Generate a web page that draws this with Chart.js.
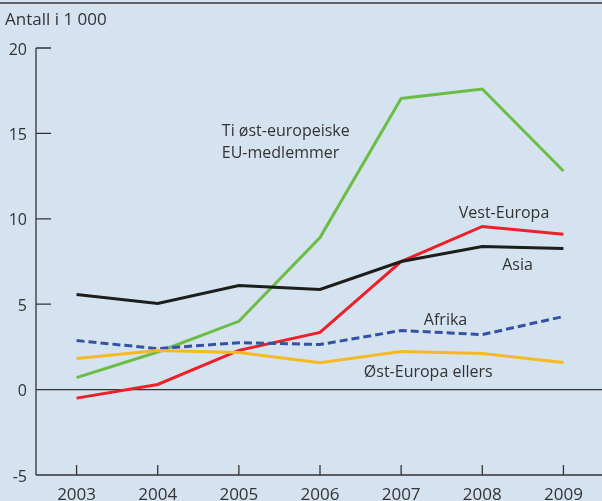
<!DOCTYPE html>
<html>
<head>
<meta charset="utf-8">
<script src="https://cdn.jsdelivr.net/npm/chart.js"></script>
<style>
html, body { margin: 0; padding: 0; overflow: hidden; background: #d5e3f0; }
</style>
</head>
<body>
<canvas id="chart" width="604" height="501"></canvas>
<script>
// Data (antall i 1 000)
const years = ['2003', '2004', '2005', '2006', '2007', '2008', '2009'];
const tiOstEu = [0.7, 2.2, 4.0, 8.9, 17.05, 17.6, 12.8];
const vestEuropa = [-0.5, 0.3, 2.3, 3.35, 7.5, 9.55, 9.1];
const asia = [5.57, 5.04, 6.1, 5.86, 7.5, 8.38, 8.26];
const afrika = [2.87, 2.4, 2.75, 2.64, 3.46, 3.22, 4.28];
const ostEuropaEllers = [1.82, 2.29, 2.17, 1.58, 2.23, 2.11, 1.58];
const yTicks = [-5, 0, 5, 10, 15, 20];

const FONT = '"Open Sans", "Noto Sans", sans-serif';
const INK = '#333333';

// series labels placed in data units (x = category index, y = value)
const seriesLabels = [
    { text: 'Ti øst-europeiske', x: 1.79, y: 15.14 },
    { text: 'EU-medlemmer', x: 1.79, y: 13.85 },
    { text: 'Vest-Europa', x: 4.71, y: 10.33 },
    { text: 'Asia', x: 5.245, y: 7.28 },
    { text: 'Afrika', x: 4.28, y: 4.05 },
    { text: 'Øst-Europa ellers', x: 3.54, y: 1.0 }
];

const decorPlugin = {
    id: 'decor',
    beforeDraw(chart) {
        const ctx = chart.ctx;
        ctx.save();
        ctx.fillStyle = '#d5e3f0';
        ctx.fillRect(0, 0, chart.width, chart.height);
        // top border
        ctx.strokeStyle = '#3a3a3a';
        ctx.lineWidth = 1.5;
        ctx.beginPath();
        ctx.moveTo(0, 3);
        ctx.lineTo(chart.width, 3);
        ctx.stroke();
        // unit text
        ctx.fillStyle = INK;
        ctx.font = '17px ' + FONT;
        ctx.textBaseline = 'middle';
        ctx.fillText('Antall i 1 000', 5, 20);
        ctx.restore();
    },
    beforeDatasetsDraw(chart) {
        const ctx = chart.ctx;
        const a = chart.chartArea;
        const xs = chart.scales.x, ys = chart.scales.y;
        ctx.save();
        ctx.strokeStyle = INK;
        ctx.lineWidth = 1.3;
        ctx.beginPath();
        // y axis
        ctx.moveTo(a.left, a.top);
        ctx.lineTo(a.left, a.bottom);
        // x axis
        ctx.moveTo(a.left, a.bottom);
        ctx.lineTo(a.right, a.bottom);
        // zero line
        const y0 = ys.getPixelForValue(0);
        ctx.moveTo(a.left, y0);
        ctx.lineTo(a.right, y0);
        // y ticks inward
        yTicks.forEach(v => {
            const py = ys.getPixelForValue(v);
            ctx.moveTo(a.left, py);
            ctx.lineTo(a.left + 15, py);
        });
        // x ticks upward
        years.forEach((y, i) => {
            const px = xs.getPixelForValue(i);
            ctx.moveTo(px, a.bottom);
            ctx.lineTo(px, a.bottom - 10);
        });
        ctx.stroke();
        ctx.restore();
    },
    afterDraw(chart) {
        const ctx = chart.ctx;
        const xs = chart.scales.x, ys = chart.scales.y;
        ctx.save();
        ctx.fillStyle = INK;
        ctx.font = '16px ' + FONT;
        ctx.textBaseline = 'middle';
        seriesLabels.forEach(l => {
            ctx.fillText(l.text, xs.getPixelForValue(l.x), ys.getPixelForValue(l.y));
        });
        ctx.restore();
    }
};

function line(label, data, color, dash) {
    return {
        label: label,
        data: data,
        borderColor: color,
        borderWidth: 3,
        borderDash: dash || [],
        pointRadius: 0,
        fill: false,
        tension: 0
    };
}

new Chart(document.getElementById('chart'), {
    type: 'line',
    data: {
        labels: years,
        datasets: [
            line('Øst-Europa ellers', ostEuropaEllers, '#f6b823'),
            line('Afrika', afrika, '#3452a4', [8, 4]),
            line('Asia', asia, '#1d1d1b'),
            line('Vest-Europa', vestEuropa, '#ee2027'),
            line('Ti øst-europeiske EU-medlemmer', tiOstEu, '#6cbd45')
        ]
    },
    options: {
        responsive: false,
        animation: false,
        layout: { padding: { top: 48, right: 0, left: 0, bottom: 0 } },
        plugins: { legend: { display: false }, tooltip: { enabled: false } },
        scales: {
            x: {
                offset: true,
                grid: { display: false, drawTicks: false },
                border: { display: false },
                ticks: { color: INK, font: { family: FONT, size: 17 }, padding: 10, maxRotation: 0 },
                afterFit(s) { s.height = 26; }
            },
            y: {
                min: -5,
                max: 20,
                afterBuildTicks(s) { s.ticks = yTicks.map(v => ({ value: v })); },
                grid: { display: false, drawTicks: false },
                border: { display: false },
                ticks: { color: INK, font: { family: FONT, size: 16 }, padding: 9, labelOffset: 2 },
                afterFit(s) { s.width = 36; }
            }
        }
    },
    plugins: [decorPlugin]
});
</script>
</body>
</html>
